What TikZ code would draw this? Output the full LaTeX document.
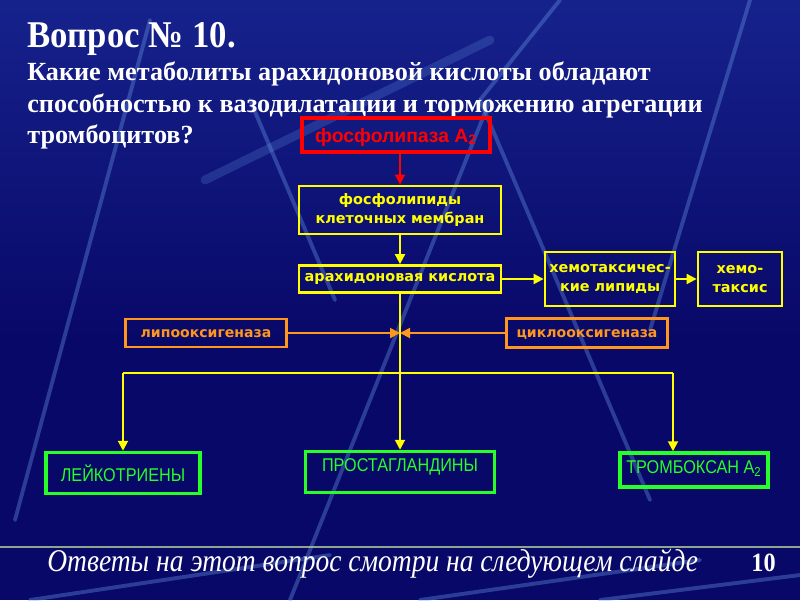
\documentclass[tikz,border=0pt]{standalone}
\usepackage{fontspec}
\setmainfont{Liberation Serif}
\newfontfamily\verdfont{DejaVu Sans}
\newfontfamily\arialfont{Liberation Sans}
\newfontfamily\narrowfont[FakeStretch=0.88]{Liberation Sans}
\newfontfamily\headfont[FakeStretch=0.92]{Liberation Serif}
\newfontfamily\footfont[FakeStretch=0.87]{Liberation Serif}
\usetikzlibrary{arrows.meta, calc}

\definecolor{slidebg}{RGB}{8,8,104}
\definecolor{slidetop}{RGB}{22,34,140}
\definecolor{streakblue}{RGB}{110,160,235}
\definecolor{boxred}{RGB}{255,0,0}
\definecolor{boxyellow}{RGB}{255,255,0}
\definecolor{boxorange}{RGB}{255,150,30}
\definecolor{boxgreen}{RGB}{40,255,40}
\definecolor{footline}{RGB}{175,205,155}

\begin{document}
\begin{tikzpicture}[
  x=0.02cm, y=-0.02cm,
  box/.style={rectangle, draw, line width=1.6pt, align=center, inner sep=0pt},
  boxsize/.style 2 args={minimum width=#1*0.02cm, minimum height=#2*0.02cm},
  redbox/.style={box, draw=boxred, line width=2.2pt, text=boxred, text depth=0pt, font=\arialfont\bfseries\fontsize{11}{13}\selectfont},
  ybox/.style={box, draw=boxyellow, text=boxyellow, font=\verdfont\bfseries\fontsize{8.2}{11}\selectfont},
  obox/.style={box, draw=boxorange, text=boxorange, text height=5pt, text depth=0pt, font=\verdfont\bfseries\fontsize{8}{10}\selectfont},
  gbox/.style={box, draw=boxgreen, line width=2pt, text=boxgreen, font=\narrowfont\fontsize{10.5}{12}\selectfont},
  arr/.style={-{Triangle[length=2mm, width=2mm]}, line width=1.1pt},
  yline/.style={draw=boxyellow, line width=1.1pt},
  streak/.style={streakblue, line width=2.2pt, opacity=0.35, line cap=round},
  headtext/.style={anchor=base west, text=white, inner sep=0pt}
]

% Background
\fill[slidebg] (0,0) rectangle (800,600);
\shade[top color=slidetop, bottom color=slidebg] (0,0) rectangle (800,340);
\useasboundingbox (0,0) rectangle (800,600);

% Light streaks
\foreach \xa/\ya/\xb/\yb in {150/20/15/520, 250/100/335/300, 490/100/290/600,
    480/100/650/500, 750/0/650/330, 560/0/480/100, 30/600/330/555, 420/600/700/560, 600/600/800/575}
  \draw[streak] (\xa,\ya) -- (\xb,\yb);
\draw[streak, line width=5pt, opacity=0.22] (205,180) -- (490,40);

% Header
\node[headtext, font=\headfont\bfseries\fontsize{21.5}{24}\selectfont] (title) at (27,47) {Вопрос № 10.};
\node[headtext, font=\bfseries\fontsize{14.9}{17}\selectfont] (q1) at (27,80) {Какие метаболиты арахидоновой кислоты обладают};
\node[headtext, font=\bfseries\fontsize{14.9}{17}\selectfont] (q2) at (27,112) {способностью к вазодилатации и торможению агрегации};
\node[headtext, font=\bfseries\fontsize{14.9}{17}\selectfont] (q3) at (27,143) {тромбоцитов?};

% Boxes
\node[redbox, boxsize={188}{34}] (pla) at (396,135) {фосфолипаза А\textsubscript{2}};
\node[ybox, boxsize={202}{48}] (memb) at (400,210) {фосфолипиды\\клеточных мембран};
\node[ybox, boxsize={202}{27}] (arach) at (400,279) {арахидоновая кислота};
\node[ybox, boxsize={130}{54}] (chlip) at (610,279) {хемотаксичес-\\кие липиды};
\node[ybox, boxsize={84}{54}] (chtax) at (740,279) {хемо-\\таксис};
\node[obox, boxsize={161}{28}] (lipox) at (206,333) {липооксигеназа};
\node[obox, boxsize={161}{29}] (cyclox) at (587,333) {циклооксигеназа};
\node[gbox, boxsize={154}{41}] (leuk) at (123,473) {ЛЕЙКОТРИЕНЫ};
\node[gbox, boxsize={189}{41}, text depth=8pt] (prost) at (400,472) {ПРОСТАГЛАНДИНЫ};
\node[gbox, boxsize={148}{34}, text depth=3pt] (tromb) at (694,470) {ТРОМБОКСАН А\textsubscript{2}};

% Connectors
\coordinate (split) at (400,373);
\coordinate (jl) at (leuk.north |- split);
\coordinate (jr) at (673,373);
\draw[arr, boxred] (pla.south -| memb.north) -- (memb.north);
\draw[arr, boxyellow] (memb.south) -- (arach.north);
\draw[arr, boxyellow] (arach.east) -- (chlip.west);
\draw[arr, boxyellow] (chlip.east) -- (chtax.west);
\draw[arr, boxyellow] (arach.south) -- (prost.north);
\draw[yline] (jl) -- (jr);
\draw[arr, boxyellow] (jl) -- (leuk.north);
\draw[arr, boxyellow] (jr) -- (jr |- tromb.north);
\draw[arr, boxorange] (lipox.east) -- (lipox.east -| arach.south);
\draw[arr, boxorange] (cyclox.west) -- (cyclox.west -| arach.south);

% Footer
\draw[footline, line width=1.5pt, opacity=0.8] (0,547) -- (800,547);
\node[headtext, font=\footfont\itshape\fontsize{18}{20}\selectfont] (answer) at (47,571) {Ответы на этот вопрос смотри на следующем слайде};
\node[headtext, anchor=base east, font=\headfont\bfseries\fontsize{15}{18}\selectfont] (pagenum) at (776,571) {10};

\end{tikzpicture}
\end{document}
